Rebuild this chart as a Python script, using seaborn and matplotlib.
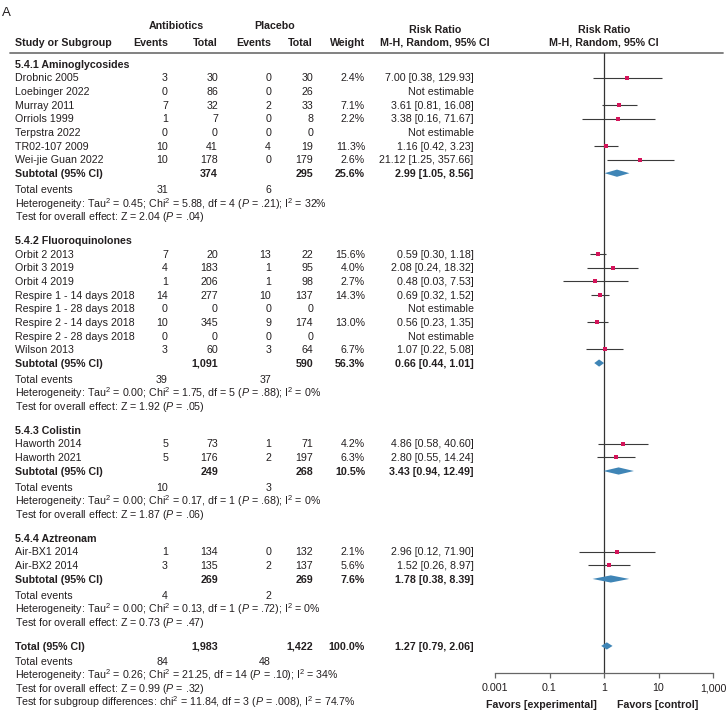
import numpy as np
import pandas as pd
import matplotlib
matplotlib.use("Agg")
import matplotlib.pyplot as plt
from matplotlib.ticker import NullLocator
import seaborn as sns

# ---- study data ----
study = ["Drobnic 2005", "Loebinger 2022", "Murray 2011", "Orriols 1999", "Terpstra 2022",
         "TR02-107 2009", "Wei-jie Guan 2022",
         "Orbit 2 2013", "Orbit 3 2019", "Orbit 4 2019", "Respire 1 - 14 days 2018",
         "Respire 1 - 28 days 2018", "Respire 2 - 14 days 2018", "Respire 2 - 28 days 2018",
         "Wilson 2013",
         "Haworth 2014", "Haworth 2021",
         "Air-BX1 2014", "Air-BX2 2014"]
group = [0] * 7 + [1] * 8 + [2] * 2 + [3] * 2
ab_events = [3, 0, 7, 1, 0, 10, 10, 7, 4, 1, 14, 0, 10, 0, 3, 5, 5, 1, 3]
ab_total = [30, 86, 32, 7, 0, 41, 178, 20, 183, 206, 277, 0, 345, 0, 60, 73, 176, 134, 135]
pl_events = [0, 0, 2, 0, 0, 4, 0, 13, 1, 1, 10, 0, 9, 0, 3, 1, 2, 0, 2]
pl_total = [30, 26, 33, 8, 0, 19, 179, 22, 95, 98, 137, 0, 174, 0, 64, 71, 197, 132, 137]
weight = [2.4, np.nan, 7.1, 2.2, np.nan, 11.3, 2.6, 15.6, 4.0, 2.7, 14.3, np.nan, 13.0, np.nan,
          6.7, 4.2, 6.3, 2.1, 5.6]
rr = [7.00, np.nan, 3.61, 3.38, np.nan, 1.16, 21.12, 0.59, 2.08, 0.48, 0.69, np.nan, 0.56, np.nan,
      1.07, 4.86, 2.80, 2.96, 1.52]
rr_lo = [0.38, np.nan, 0.81, 0.16, np.nan, 0.42, 1.25, 0.30, 0.24, 0.03, 0.32, np.nan, 0.23, np.nan,
         0.22, 0.58, 0.55, 0.12, 0.26]
rr_hi = [129.93, np.nan, 16.08, 71.67, np.nan, 3.23, 357.66, 1.18, 18.32, 7.53, 1.52, np.nan, 1.35,
         np.nan, 5.08, 40.60, 14.24, 71.90, 8.97]

# ---- subgroup data ----
sub_names = ["5.4.1 Aminoglycosides", "5.4.2 Fluoroquinolones", "5.4.3 Colistin", "5.4.4 Aztreonam"]
sub_ab_total = [374, 1091, 249, 269]
sub_pl_total = [295, 590, 268, 269]
sub_weight = [25.6, 56.3, 10.5, 7.6]
sub_rr = [2.99, 0.66, 3.43, 1.78]
sub_lo = [1.05, 0.44, 0.94, 0.38]
sub_hi = [8.56, 1.01, 12.49, 8.39]
sub_ab_events = [31, 39, 10, 4]
sub_pl_events = [6, 37, 3, 2]
sub_het = ["Tau$^2$ = 0.45; Chi$^2$ = 5.88, df = 4 ($P$ = .21); I$^2$ = 32%",
           "Tau$^2$ = 0.00; Chi$^2$ = 1.75, df = 5 ($P$ = .88); I$^2$ = 0%",
           "Tau$^2$ = 0.00; Chi$^2$ = 0.17, df = 1 ($P$ = .68); I$^2$ = 0%",
           "Tau$^2$ = 0.00; Chi$^2$ = 0.13, df = 1 ($P$ = .72); I$^2$ = 0%"]
sub_z = ["Z = 2.04 ($P$ = .04)", "Z = 1.92 ($P$ = .05)", "Z = 1.87 ($P$ = .06)", "Z = 0.73 ($P$ = .47)"]

# ---- overall ----
tot_ab_total, tot_pl_total = 1983, 1422
tot_weight = 100.0
tot_rr, tot_lo, tot_hi = 1.27, 0.79, 2.06
tot_ab_events, tot_pl_events = 84, 48
tot_het = "Tau$^2$ = 0.26; Chi$^2$ = 21.25, df = 14 ($P$ = .10); I$^2$ = 34%"
tot_z = "Z = 0.99 ($P$ = .32)"
subgroup_test = "chi$^2$ = 11.84, df = 3 ($P$ = .008), I$^2$ = 74.7%"

ticks = [1e-4, 1e-2, 1, 1e2, 1e4]
tick_labels = ["0.001", "0.1", "1", "10", "1,000"]  # as printed in the source figure

# ---- styling ----
sns.set_theme(style="white")
plt.rcParams["font.family"] = ["Liberation Sans", "DejaVu Sans"]
plt.rcParams["mathtext.fontset"] = "custom"
plt.rcParams["mathtext.rm"] = "Liberation Sans"
plt.rcParams["mathtext.it"] = "Liberation Sans:italic"
plt.rcParams["mathtext.bf"] = "Liberation Sans:bold"

TXT = "#231f20"
FS = 7.7
W, H = 727, 710
HALF_CAP = 3.8  # px, centre of caps -> baseline

# row layout (pixels from top)
STEP = 13.65
y = 64.0
sec_y, study_y, sub_y, te_y, het_y, z_y = [], [], [], [], [], []
for g in range(4):
    sec_y.append(y)
    for _ in range(group.count(g)):
        y += STEP
        study_y.append(y)
    y += STEP
    sub_y.append(y)
    y += 16
    te_y.append(y)
    y += 14.5
    het_y.append(y)
    y += 12.5
    z_y.append(y)
    y += 24
tot_y = y
tot_te_y = tot_y + 15
tot_het_y = tot_te_y + 14.5
tot_z_y = tot_het_y + 12.5
sg_y = tot_z_y + 14.5

df = pd.DataFrame({"study": study, "y": study_y, "rr": rr, "lo": rr_lo, "hi": rr_hi})

fig = plt.figure(figsize=(W / 100, H / 100), dpi=100)
tab = fig.add_axes([0, 0, 1, 1])
tab.set_xlim(0, W)
tab.set_ylim(H, 0)
tab.axis("off")

AXB, AXT = 673, 53
fax = fig.add_axes([495 / W, (H - AXB) / H, 218 / W, (AXB - AXT) / H])


def put(x, yy, s, ha="left", bold=False, size=FS):
    tab.text(x, yy + HALF_CAP * size / FS, s, ha=ha, va="baseline", fontsize=size, color=TXT,
             fontweight="bold" if bold else "normal")


cols = [168, 218, 271, 313, 365]
X_NAME, X_RR = 15, 473.5

# header
put(2, 11, "A", size=9.5)
put(176, 25, "Antibiotics", ha="center", bold=True)
put(274.5, 25, "Placebo", ha="center", bold=True)
put(X_NAME, 42, "Study or Subgroup", bold=True)
for x, s in zip(cols, ["Events", "Total", "Events", "Total", "Weight"]):
    put(x, 42, s, ha="right", bold=True)
put(435, 29, "Risk Ratio", ha="center", bold=True)
put(435, 42, "M-H, Random, 95% CI", ha="center", bold=True)
put(604, 29, "Risk Ratio", ha="center", bold=True)
put(604, 42, "M-H, Random, 95% CI", ha="center", bold=True)
tab.plot([10, 723], [53, 53], color="#777777", lw=1.3)


def fmt_rr(r, lo, hi):
    if np.isnan(r):
        return "Not estimable"
    return f"{r:.2f} [{lo:.2f}, {hi:.2f}]"


# study rows
for i, row in enumerate(study):
    yy = study_y[i]
    put(X_NAME, yy, row)
    vals = [ab_events[i], ab_total[i], pl_events[i], pl_total[i]]
    for x, v in zip(cols[:4], vals):
        put(x, yy, f"{v:,}", ha="right")
    if not np.isnan(weight[i]):
        put(cols[4], yy, f"{weight[i]:.1f}%", ha="right")
    put(X_RR, yy, fmt_rr(rr[i], rr_lo[i], rr_hi[i]), ha="right")

# subgroup rows
for g in range(4):
    put(X_NAME, sec_y[g], sub_names[g], bold=True)
    put(X_NAME, sub_y[g], "Subtotal (95% CI)", bold=True)
    put(cols[1], sub_y[g], f"{sub_ab_total[g]:,}", ha="right", bold=True)
    put(cols[3], sub_y[g], f"{sub_pl_total[g]:,}", ha="right", bold=True)
    put(cols[4], sub_y[g], f"{sub_weight[g]:.1f}%", ha="right", bold=True)
    put(X_RR, sub_y[g], fmt_rr(sub_rr[g], sub_lo[g], sub_hi[g]), ha="right", bold=True)
    put(X_NAME, te_y[g], "Total events")
    put(cols[0], te_y[g], str(sub_ab_events[g]), ha="right")
    put(cols[2], te_y[g], str(sub_pl_events[g]), ha="right")
    put(X_NAME, het_y[g], "Heterogeneity: " + sub_het[g])
    put(X_NAME, z_y[g], "Test for overall effect: " + sub_z[g])

# overall rows
put(X_NAME, tot_y, "Total (95% CI)", bold=True)
put(cols[1], tot_y, f"{tot_ab_total:,}", ha="right", bold=True)
put(cols[3], tot_y, f"{tot_pl_total:,}", ha="right", bold=True)
put(cols[4], tot_y, f"{tot_weight:.1f}%", ha="right", bold=True)
put(X_RR, tot_y, fmt_rr(tot_rr, tot_lo, tot_hi), ha="right", bold=True)
put(X_NAME, tot_te_y, "Total events")
put(cols[0], tot_te_y, str(tot_ab_events), ha="right")
put(cols[2], tot_te_y, str(tot_pl_events), ha="right")
put(X_NAME, tot_het_y, "Heterogeneity: " + tot_het)
put(X_NAME, tot_z_y, "Test for overall effect: " + tot_z)
put(X_NAME, sg_y, "Test for subgroup differences: " + subgroup_test)

# ---- forest panel ----
fax.set_xscale("log")
fax.set_xlim(ticks[0], ticks[-1])
fax.set_ylim(AXB, AXT)
fax.patch.set_alpha(0)
for s in ["top", "right", "left"]:
    fax.spines[s].set_visible(False)
fax.spines["bottom"].set_color("#666666")
fax.spines["bottom"].set_linewidth(0.9)
fax.set_xticks(ticks)
fax.set_xticklabels(tick_labels)
fax.xaxis.set_minor_locator(NullLocator())
fax.set_yticks([])
fax.tick_params(axis="x", direction="out", length=3.5, width=0.9, color="#666666",
                labelsize=FS, labelcolor=TXT, pad=4, bottom=True)
fax.grid(False)
fax.axvline(1, color="#333333", lw=0.9, zorder=1)

est = df.dropna()
fax.hlines(est["y"], est["lo"], est["hi"], color="#3a3a3a", lw=0.8, zorder=2)
sns.scatterplot(data=est, x="rr", y="y", marker="s", s=7, color="#d4145a",
                linewidth=0, ax=fax, zorder=3, legend=False)

DIA = "#3f85b6"
for r, lo, hi, yy in zip(sub_rr + [tot_rr], sub_lo + [tot_lo], sub_hi + [tot_hi], sub_y + [tot_y]):
    fax.fill([lo, r, hi, r], [yy, yy - 3.6, yy, yy + 3.6], color=DIA, lw=0, zorder=3)
fax.set_xlabel("")
fax.set_ylabel("")

put(596.5, 704, "Favors [experimental]", ha="right", bold=True)
put(617, 704, "Favors [control]", bold=True)

fig.savefig("out.png", dpi=100)
